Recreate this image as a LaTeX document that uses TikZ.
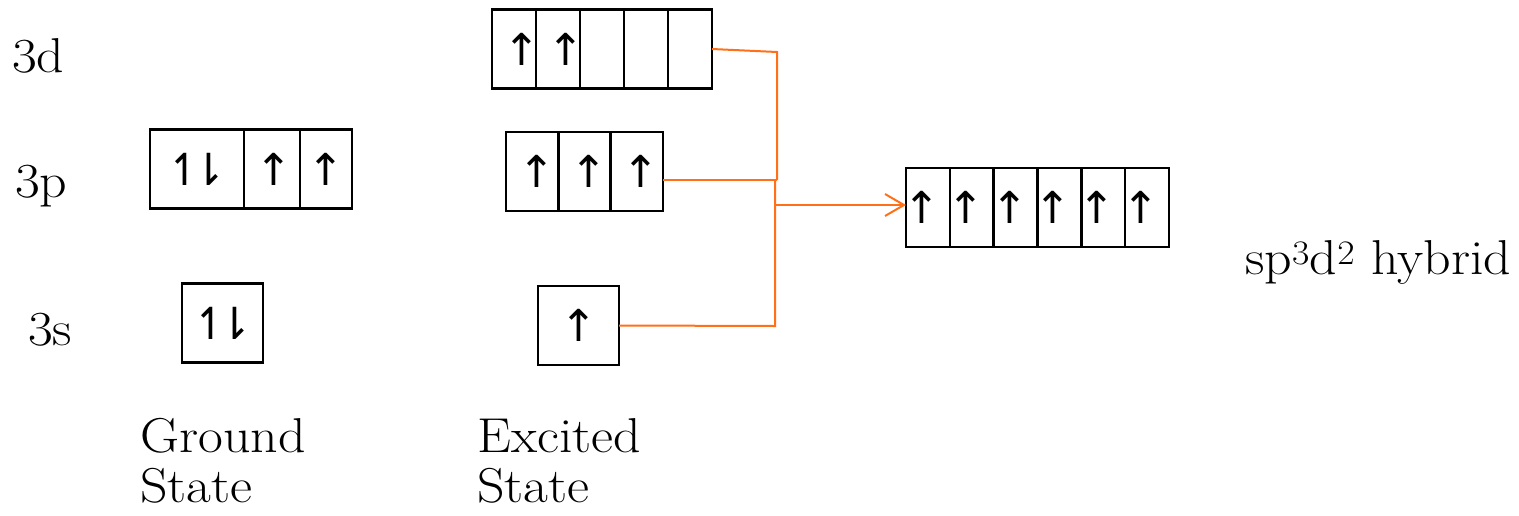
\documentclass[tikz,border=0pt]{standalone}
\usepackage{fontspec}
\setmainfont{lmroman17-regular.otf}[FakeStretch=1.1]
\usepackage{xcolor}
\usepackage{tikz}
\usetikzlibrary{arrows.meta, positioning, calc}
\newfontfamily\spinfont{DejaVu Sans}
\definecolor{hybline}{RGB}{255,112,24}
% spin glyph, moved sideways without widening its box
\newcommand\spin[2][0pt]{\makebox[0pt]{\hspace*{#1}#2}}
\newcommand\pair{↿\kern-13pt⇂}

\begin{document}
\begin{tikzpicture}[
    x=1pt, y=-1pt,
    orb/.style={draw,line width=2.6pt,minimum width=#1,minimum height=79pt,
      inner sep=0pt,outer sep=0pt,font=\spinfont\fontsize{44}{44}\selectfont},
    orb/.default=44pt,
    lvl/.style={anchor=base west,inner sep=0pt,font=\fontsize{49}{50}\selectfont},
    statecap/.style={anchor=north west,inner sep=0pt,align=left,
      font=\fontsize{49}{50}\selectfont},
    link/.style={hybline,line width=2pt},
    >={Straight Barb[length=19pt,width=22pt,line width=2pt]}
  ]
  \useasboundingbox (0,0) rectangle (1519,515);

  % level labels
  \node[lvl] (l3d) at (12,72) {3d};
  \node[lvl] (l3p) at (15,197) {3p};
  \node[lvl] (l3s) at (28,345) {3s};

  % ground state
  \node[orb=94pt] (gp1) at (197,169) {\spin{\pair}};
  \node[orb=56pt] (gp2) at (272,169) {\spin[4pt]{↑}};
  \node[orb=52pt] (gp3) at (326,169) {\spin{↑}};
  \node[orb=81pt] (gs1) at (222.5,323) {\spin{\pair}};
  \node[statecap] (gcap) at (140,418) {Ground\\State};

  % excited state
  \foreach \i/\s in {1/↑, 2/↑, 3/, 4/, 5/} {
    \node[orb] (d\i) at (470+44*\i,49) {\spin[16pt]{\s}}; }
  \foreach \i in {1,2,3} {
    \node[orb=52.3pt] (p\i) at (479.85+52.3*\i,171.5) {\spin[9pt]{↑}}; }
  \node[orb=81pt] (s1) at (578.5,325.5) {\spin{↑}};
  \node[statecap] (ecap) at (477,418) {Excited\\State};

  % hybrid orbitals
  \foreach \i in {1,...,6} {
    \node[orb=43.8pt] (h\i) at (884.1+43.8*\i,207.5) {\spin[-12pt]{↑}}; }
  \node[lvl] (hcap) at (1245,274) {sp\textsuperscript{3}d\textsuperscript{2} hybrid};

  % mixing lines
  \coordinate (jd) at (777,52);
  \coordinate (jp) at (777,180);
  \coordinate (jq) at (775,180);
  \coordinate (js) at (775,326);
  \coordinate (jh) at (775,205);
  \draw[link] (d5.east) -- (jd) -- (jp);
  \draw[link] (jp -| p3.east) -- (jp);
  \draw[link] (s1.east) -- (js) -- (jq);
  \draw[link,->] (jh) -- (jh -| h1.west);
\end{tikzpicture}
\end{document}
